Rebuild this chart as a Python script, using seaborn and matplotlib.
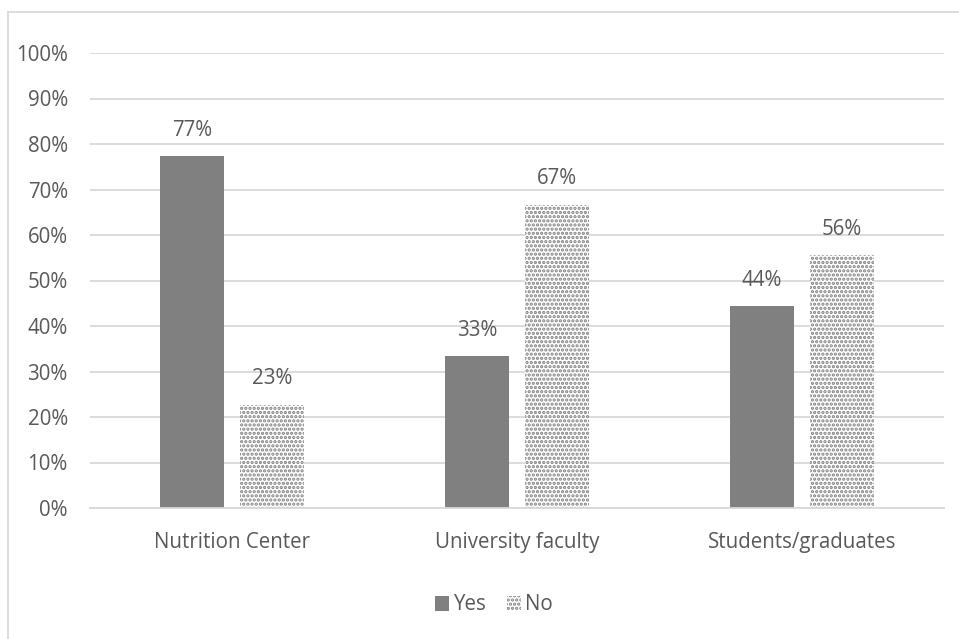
import matplotlib
matplotlib.use("Agg")
import matplotlib.pyplot as plt
import seaborn as sns
import pandas as pd
from matplotlib.lines import Line2D
from matplotlib.patches import Patch

categories = ["Nutrition Center", "University faculty", "Students/graduates"]
series = ["Yes", "No"]
yes_values = [77.3, 33.3, 44.4]
no_values = [22.7, 66.7, 55.6]
y_ticks = [0, 10, 20, 30, 40, 50, 60, 70, 80, 90, 100]

df = pd.DataFrame({
    "category": categories * 2,
    "answer": ["Yes"] * 3 + ["No"] * 3,
    "value": yes_values + no_values,
})

sns.set_theme(style="white")
plt.rcParams["font.family"] = ["Open Sans", "DejaVu Sans"]
plt.rcParams["hatch.linewidth"] = 1.6

TXT = "#595959"
GRID = "#d9d9d9"
BAR = "#808080"
FS = 14.8

W, H = 959, 639
fig = plt.figure(figsize=(W / 100, H / 100), dpi=100)
ax = fig.add_axes([90 / W, 1 - 508 / H, (944 - 90) / W, (508 - 53) / H])

sns.barplot(data=df, x="category", y="value", hue="answer", order=categories,
            hue_order=series, palette={"Yes": BAR, "No": "white"},
            width=0.562, gap=0.2, legend=False, ax=ax, saturation=1)

for p in ax.containers[1].patches:
    p.set_facecolor("white")
    p.set_edgecolor(BAR)
    p.set_hatch("....")
    p.set_linewidth(0)
for p in ax.containers[0].patches:
    p.set_edgecolor("none")

for cont in ax.containers:
    ax.bar_label(cont, labels=[f"{v:.0f}%" for v in cont.datavalues],
                 padding=11, fontsize=FS, color=TXT)

ax.set_ylim(0, 100)
ax.set_xlim(-0.5, 2.5)
ax.set_yticks(y_ticks)
ax.set_yticklabels([f"{t}%" for t in y_ticks])
ax.yaxis.grid(True, color=GRID, linewidth=1.3)
ax.set_axisbelow(True)
for s in ["top", "right", "left"]:
    ax.spines[s].set_visible(False)
ax.spines["bottom"].set_color(GRID)
ax.spines["bottom"].set_linewidth(1.3)
ax.tick_params(axis="y", length=0, pad=16, labelsize=FS, labelcolor=TXT)
ax.tick_params(axis="x", length=0, pad=17, labelsize=FS, labelcolor=TXT)
ax.set_xlabel("")
ax.set_ylabel("")

handles = [Patch(facecolor=BAR, edgecolor="none", label="Yes"),
           Patch(facecolor="white", edgecolor=BAR, hatch="....", linewidth=0, label="No")]
fig.legend(handles=handles, loc="center", bbox_to_anchor=(494 / W, 1 - 605 / H),
           ncol=2, frameon=False, fontsize=FS, handlelength=0.7, handleheight=0.7,
           handletextpad=0.2, columnspacing=1.0, labelcolor=TXT)

# outer chart frame (top and left edges visible)
fig.add_artist(Line2D([8 / W, 1.0], [1 - 12 / H, 1 - 12 / H], color=GRID, linewidth=1.3,
                      transform=fig.transFigure))
fig.add_artist(Line2D([8 / W, 8 / W], [0.0, 1 - 12 / H], color=GRID, linewidth=1.3,
                      transform=fig.transFigure))

fig.savefig("out.png", dpi=100, facecolor="white")
